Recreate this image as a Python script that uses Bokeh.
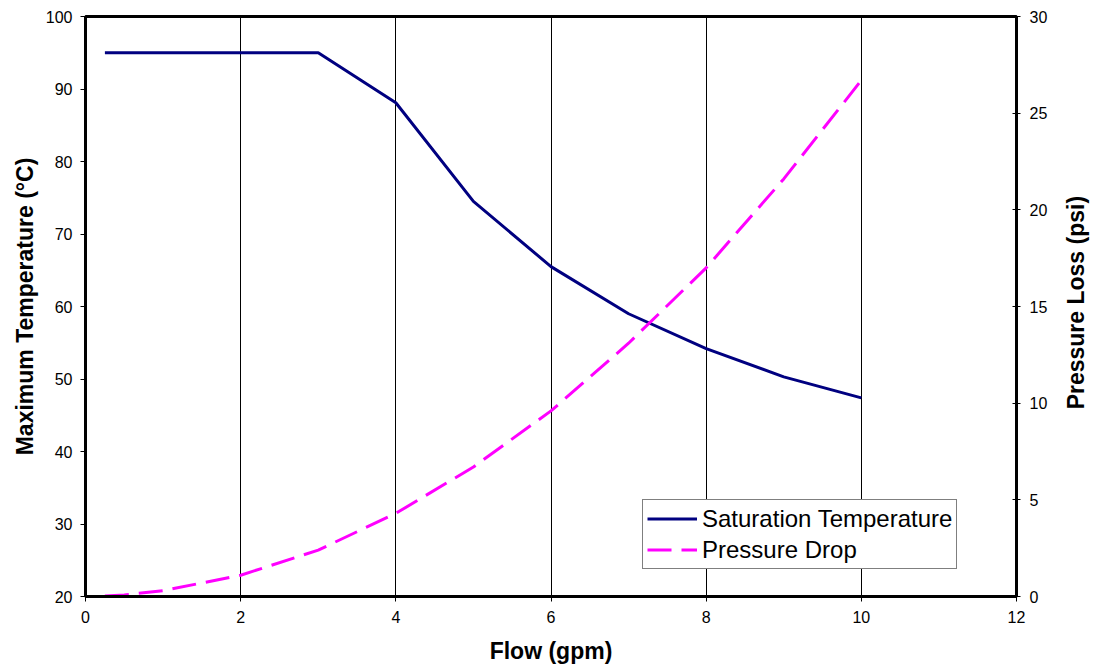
import math
from bokeh.plotting import figure
from bokeh.layouts import row
from bokeh.models import LinearAxis, Range1d, FixedTicker, Legend, LegendItem
from bokeh.core.properties import value
from bokeh.embed import file_html
from bokeh.resources import INLINE

flow = [0.25, 0.5, 1, 2, 3, 4, 5, 6, 7, 8, 9, 10]
sat_temp = [95, 95, 95, 95, 95, 88.1, 74.5, 65.5, 59.0, 54.2, 50.3, 47.4]
press_drop = [0.03, 0.08, 0.3, 1.1, 2.4, 4.3, 6.7, 9.6, 13.1, 17.0, 21.6, 26.7]
x_ticks = [0, 2, 4, 6, 8, 10, 12]
left_ticks = [20, 30, 40, 50, 60, 70, 80, 90, 100]
right_ticks = [0, 5, 10, 15, 20, 25, 30]
right_title_text = "Pressure Loss (psi)"

FONT = "Liberation Sans"

p = figure(width=1050, height=666, output_backend="svg", toolbar_location=None,
           x_range=Range1d(0, 12), y_range=Range1d(20, 100),
           min_border_left=85, min_border_right=33, min_border_top=16, min_border_bottom=69)
p.extra_y_ranges = {"right": Range1d(0, 30)}
p.background_fill_color = "white"
p.border_fill_color = "white"
p.outline_line_color = "black"
p.outline_line_width = 3

p.xgrid.ticker = FixedTicker(ticks=x_ticks)
p.xgrid.grid_line_color = "black"
p.xgrid.grid_line_width = 1
p.ygrid.grid_line_color = None

ra = LinearAxis(y_range_name="right", ticker=FixedTicker(ticks=right_ticks))
p.add_layout(ra, "right")

for ax in (p.xaxis[0], p.yaxis[0], ra):
    ax.axis_line_color = "black"
    ax.axis_line_width = 3
    ax.major_tick_line_color = "black"
    ax.major_tick_line_width = 1
    ax.major_tick_in = 0
    ax.major_tick_out = 5
    ax.minor_tick_line_color = None
    ax.major_label_text_font = FONT
    ax.major_label_text_font_size = "16px"
    ax.major_label_text_color = "black"
    ax.axis_label_text_font = FONT
    ax.axis_label_text_font_size = "23px"
    ax.axis_label_text_font_style = "bold"
    ax.axis_label_text_color = "black"

p.xaxis[0].ticker = FixedTicker(ticks=x_ticks)
p.yaxis[0].ticker = FixedTicker(ticks=left_ticks)
p.xaxis[0].axis_label = "Flow (gpm)"
p.yaxis[0].axis_label = "Maximum Temperature (°C)"
p.xaxis[0].major_label_standoff = 9
p.xaxis[0].axis_label_standoff = 12
p.yaxis[0].major_label_standoff = 8
p.yaxis[0].axis_label_standoff = 5
ra.major_tick_in = 4
ra.major_tick_out = 4
ra.major_label_standoff = 9

r1 = p.line(flow, sat_temp, line_color="#000080", line_width=3)
r2 = p.line(flow, press_drop, line_color="#FF00FF", line_width=3,
            line_dash="24 10", y_range_name="right")

legend = Legend(items=[LegendItem(label="Saturation Temperature", renderers=[r1]),
                       LegendItem(label="Pressure Drop", renderers=[r2])],
                location=(557, 27))
legend.border_line_color = "black"
legend.border_line_width = 1
legend.background_fill_color = "white"
legend.background_fill_alpha = 1
legend.label_text_font = FONT
legend.label_text_font_size = "24px"
legend.label_text_color = "black"
legend.glyph_width = 50
legend.glyph_height = 29
legend.label_height = 29
legend.label_standoff = 5
legend.padding = 4
legend.spacing = 2
legend.margin = 0
p.add_layout(legend, "center")

# narrow strip holding the right-hand axis title, reading bottom-to-top
p2 = figure(width=40, height=666, output_backend="svg", toolbar_location=None,
            x_range=Range1d(0, 40), y_range=Range1d(0, 30),
            x_axis_type=None, y_axis_type=None,
            min_border_left=0, min_border_right=0, min_border_top=16, min_border_bottom=69)
p2.outline_line_color = None
p2.background_fill_color = "white"
p2.border_fill_color = "white"
p2.text(x=[25], y=[15.2], text=[right_title_text], angle=math.pi / 2,
        text_align="center", text_baseline="middle",
        text_font=value(FONT), text_font_size=value("23px"),
        text_font_style="bold", text_color="black")

layout = row(p, p2, spacing=0)
open("out.html", "w").write(file_html(layout, INLINE))
